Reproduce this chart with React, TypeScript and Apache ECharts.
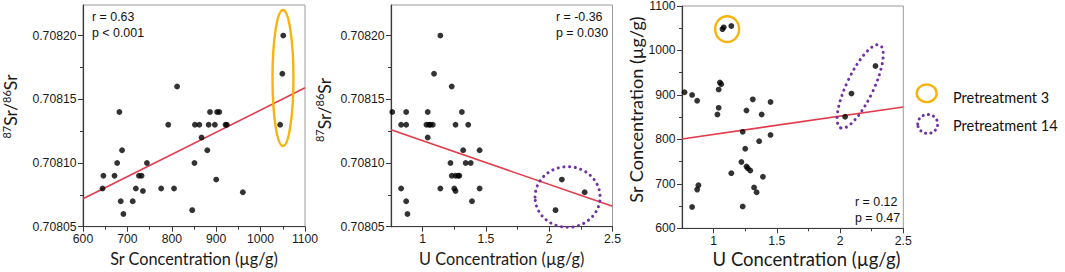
import React, { useEffect, useRef } from "react";
import * as echarts from "echarts";

// ---------- Panel A: Sr concentration vs 87Sr/86Sr ----------
const srConcA = [644, 646, 671, 677, 682, 688, 685, 691, 712, 719, 726, 732, 735, 744, 776, 792, 805, 812, 846, 851, 852, 862, 867, 880, 883, 886, 897, 900, 902, 907, 921, 924, 960, 1044, 1049, 1051];
const ratioA = [0.70808, 0.70809, 0.70809, 0.7081, 0.70814, 0.70811, 0.70807, 0.70806, 0.70807, 0.70808, 0.70809, 0.70809, 0.708078, 0.7081, 0.70808, 0.70813, 0.70808, 0.70816, 0.708063, 0.7081, 0.70813, 0.70813, 0.70812, 0.70811, 0.70813, 0.70814, 0.70813, 0.708087, 0.70814, 0.70814, 0.70813, 0.70813, 0.708077, 0.70813, 0.70817, 0.7082];
const trendA = [[600, 0.708072], [1100, 0.708159]];

// ---------- Panel B: U concentration vs 87Sr/86Sr ----------
const uConcB = [0.76, 0.83, 0.83, 0.87, 0.87, 0.87, 0.88, 1.03, 1.04, 1.04, 1.05, 1.06, 1.08, 1.09, 1.14, 1.14, 1.22, 1.23, 1.23, 1.25, 1.26, 1.26, 1.26, 1.28, 1.29, 1.31, 1.32, 1.34, 1.36, 1.38, 1.39, 1.45, 1.45, 2.05, 2.1, 2.28];
const ratioB = [0.70814, 0.70808, 0.70813, 0.70814, 0.70813, 0.70807, 0.70806, 0.70813, 0.70814, 0.70812, 0.70813, 0.70813, 0.70813, 0.70817, 0.7082, 0.70808, 0.7081, 0.70816, 0.70809, 0.70808, 0.70809, 0.70813, 0.708078, 0.70809, 0.70809, 0.70814, 0.70811, 0.7081, 0.70813, 0.7081, 0.70807, 0.70811, 0.70808, 0.708063, 0.708087, 0.708077];
const trendB = [[0.75, 0.708126], [2.5, 0.708066]];

// ---------- Panel C: U concentration vs Sr concentration ----------
const uConcC = [0.77, 0.83, 0.87, 0.83, 0.87, 0.88, 1.03, 1.04, 1.04, 1.05, 1.06, 1.07, 1.08, 1.14, 1.14, 1.22, 1.23, 1.23, 1.25, 1.26, 1.26, 1.27, 1.29, 1.31, 1.32, 1.34, 1.36, 1.38, 1.39, 1.45, 1.45, 2.04, 2.09, 2.28];
const srConcC = [906, 900, 887, 648, 687, 697, 856, 871, 912, 928, 924, 1048, 1052, 1055, 724, 749, 817, 649, 779, 865, 739, 735, 730, 890, 692, 681, 796, 856, 716, 884, 810, 851, 903, 965];
const trendC = [[0.75, 801], [2.5, 873]];

// ---------- Axis ranges and ticks ----------
const ratioRange = [0.70805, 0.708224];
const ratioTicks = [0.70805, 0.7081, 0.70815, 0.7082];
const ratioMinorTicks = [0.708075, 0.708125, 0.708175];
const srRangeX = [600, 1100];
const srTicksX = [600, 700, 800, 900, 1000, 1100];
const srMinorX = [650, 750, 850, 950, 1050];
const uRange = [0.75, 2.5];
const uTicks = [1, 1.5, 2, 2.5];
const uMinor = [1.25, 1.75, 2.25];
const srRangeY = [600, 1100];
const srTicksY = [600, 700, 800, 900, 1000, 1100];
const srMinorY = [650, 750, 850, 950, 1050];

// ---------- Titles and stats text ----------
const srTitle = "Sr Concentration (µg/g)";
const uTitle = "U Concentration (µg/g)";
const statsA = ["r = 0.63", "p < 0.001"];
const statsB = ["r = -0.36", "p = 0.030"];
const statsC = ["r = 0.12", "p = 0.47"];

// ---------- Annotation shapes (data units) ----------
const pretreat3A = { center: [1050.4, 0.7081667], radius: [23.6, 0.0000534] };
const pretreat14B = { center: [2.145, 0.7080733], radius: [0.257, 0.0000238] };
const pretreat3C = { center: [1.107, 1048], radius: [0.095, 29] };
const pretreat14C = { ends: [[2.004, 826], [2.314, 1012]], halfWidthPx: 13.5 };

const legendLabels = ["Pretreatment 3", "Pretreatment 14"];

const ORANGE = "#F8B30C";
const PURPLE = "#7030A0";
const RED = "#E33B4B";
const AXIS = "#3a3a3a";
const LABEL_FONT = "Liberation Sans";
const TITLE_FONT = "Lato";

const zip = (a: number[], b: number[]) => a.map((v, i) => [v, b[i]]);

function mainAxis(grid: number, range: number[], ticks: number[], fmt: ((v: number) => string) | null, isX: boolean, name: string, nameSize: number, nameGap: number) {
  return {
    type: "value",
    gridIndex: grid,
    min: range[0],
    max: range[1],
    position: isX ? "bottom" : "left",
    axisLine: { show: true, onZero: false, lineStyle: { color: AXIS, width: 1.2 } },
    axisTick: { show: true, inside: false, length: 5, customValues: ticks, lineStyle: { color: AXIS, width: 1 } },
    axisLabel: {
      show: true,
      customValues: ticks,
      formatter: fmt || ((v: number) => String(v)),
      fontSize: 12.2,
      fontFamily: LABEL_FONT,
      color: "#1a1a1a",
      margin: 6.5,
    },
    splitLine: { show: false },
    name: name,
    nameLocation: "middle",
    nameGap: nameGap,
    nameTextStyle: { fontFamily: TITLE_FONT, fontSize: nameSize, color: "#1a1a1a" },
  };
}

function minorAxis(grid: number, range: number[], ticks: number[], isX: boolean) {
  return {
    type: "value",
    gridIndex: grid,
    min: range[0],
    max: range[1],
    position: isX ? "bottom" : "left",
    axisLine: { show: false, onZero: false },
    axisTick: { show: true, inside: false, length: 3, customValues: ticks, lineStyle: { color: AXIS, width: 1 } },
    axisLabel: { show: false },
    splitLine: { show: false },
  };
}

const ratioFmt = (v: number) => v.toFixed(5);

export default function App() {
  const ref = useRef<HTMLDivElement>(null);

  useEffect(() => {
    if (!ref.current) return;
    const chart = echarts.init(ref.current, null, { renderer: "svg" });

    const gridBase = { show: true, borderColor: "#9a9a9a", borderWidth: 1, backgroundColor: "transparent", outerBoundsMode: "none", containLabel: false };

    const scatter = (g: number, data: number[][]) => ({
      type: "scatter",
      xAxisIndex: g * 2,
      yAxisIndex: g * 2,
      data,
      symbolSize: 5.8,
      itemStyle: { color: "#000" },
      z: 3,
    });
    const trend = (g: number, data: number[][]) => ({
      type: "line",
      xAxisIndex: g * 2,
      yAxisIndex: g * 2,
      data,
      showSymbol: false,
      symbol: "none",
      lineStyle: { color: RED, width: 1.6 },
      z: 2,
      silent: true,
    });

    chart.setOption({
      animation: false,
      grid: [
        { ...gridBase, left: 83, top: 5, width: 222, height: 221.7 },
        { ...gridBase, left: 391, top: 5, width: 221.5, height: 221.7 },
        { ...gridBase, left: 682, top: 6, width: 221.3, height: 222.3 },
      ],
      xAxis: [
        mainAxis(0, srRangeX, srTicksX, null, true, srTitle, 16.3, 21),
        minorAxis(0, srRangeX, srMinorX, true),
        mainAxis(1, uRange, uTicks, null, true, uTitle, 16.3, 21),
        minorAxis(1, uRange, uMinor, true),
        mainAxis(2, uRange, uTicks, null, true, "", 12, 0),
        minorAxis(2, uRange, uMinor, true),
      ],
      yAxis: [
        mainAxis(0, ratioRange, ratioTicks, ratioFmt, false, "", 12, 0),
        minorAxis(0, ratioRange, ratioMinorTicks, false),
        mainAxis(1, ratioRange, ratioTicks, ratioFmt, false, "", 12, 0),
        minorAxis(1, ratioRange, ratioMinorTicks, false),
        mainAxis(2, srRangeY, srTicksY, null, false, "", 12, 0),
        minorAxis(2, srRangeY, srMinorY, false),
      ],
      series: [
        trend(0, trendA),
        scatter(0, zip(srConcA, ratioA)),
        trend(1, trendB),
        scatter(1, zip(uConcB, ratioB)),
        trend(2, trendC),
        scatter(2, zip(uConcC, srConcC)),
      ],
    });

    const toPx = (g: number, p: number[]) =>
      chart.convertToPixel({ xAxisIndex: g * 2, yAxisIndex: g * 2 } as any, p) as number[];

    const ellipseOf = (g: number, spec: { center: number[]; radius: number[] }, stroke: string, dotted: boolean) => {
      const c = toPx(g, spec.center);
      const ex = toPx(g, [spec.center[0] + spec.radius[0], spec.center[1]]);
      const ey = toPx(g, [spec.center[0], spec.center[1] + spec.radius[1]]);
      return {
        type: "ellipse",
        z: 50,
        silent: true,
        shape: { cx: c[0], cy: c[1], rx: Math.abs(ex[0] - c[0]), ry: Math.abs(ey[1] - c[1]) },
        style: dotted
          ? { fill: "none", stroke, lineWidth: 3, lineDash: [0.1, 5.6], lineCap: "round" }
          : { fill: "none", stroke, lineWidth: 2.4 },
      };
    };

    const p1 = toPx(2, pretreat14C.ends[0]);
    const p2 = toPx(2, pretreat14C.ends[1]);
    const tilted = {
      type: "ellipse",
      z: 50,
      silent: true,
      x: (p1[0] + p2[0]) / 2,
      y: (p1[1] + p2[1]) / 2,
      rotation: Math.atan2(p1[1] - p2[1], p2[0] - p1[0]),
      shape: { cx: 0, cy: 0, rx: Math.hypot(p2[0] - p1[0], p2[1] - p1[1]) / 2, ry: pretreat14C.halfWidthPx },
      style: { fill: "none", stroke: PURPLE, lineWidth: 3, lineDash: [0.1, 5.6], lineCap: "round" },
    };

    const statText = (x: number, y: number, text: string) => ({
      type: "text",
      x,
      y,
      z: 60,
      style: { text, fontFamily: LABEL_FONT, fontSize: 12.4, fill: "#111", align: "left", verticalAlign: "middle" },
    });

    const richRatio = (x: number, y: number) => ({
      type: "text",
      x,
      y,
      rotation: Math.PI / 2,
      z: 60,
      style: {
        text: "{sup|87}Sr/{sup|86}Sr",
        fontFamily: TITLE_FONT,
        fontSize: 17.5,
        fill: "#1a1a1a",
        align: "center",
        verticalAlign: "middle",
        lineHeight: 20,
        rich: {
          sup: { fontFamily: TITLE_FONT, fontSize: 11, fill: "#1a1a1a", verticalAlign: "top", lineHeight: 11 },
        },
      },
    });

    chart.setOption({
      graphic: [
        ellipseOf(0, pretreat3A, ORANGE, false),
        ellipseOf(1, pretreat14B, PURPLE, true),
        ellipseOf(2, pretreat3C, ORANGE, false),
        tilted,
        statText(92, 16.5, statsA[0]),
        statText(92, 32.5, statsA[1]),
        statText(556, 16.5, statsB[0]),
        statText(556, 32.5, statsB[1]),
        statText(855, 201.5, statsC[0]),
        statText(855, 218, statsC[1]),
        richRatio(10.5, 106.5),
        richRatio(324, 110),
        {
          type: "text",
          x: 636,
          y: 109.5,
          rotation: Math.PI / 2,
          z: 60,
          style: { text: srTitle, fontFamily: TITLE_FONT, fontSize: 18.1, fill: "#1a1a1a", align: "center", verticalAlign: "middle" },
        },
        {
          type: "text",
          x: 806.5,
          y: 259,
          z: 60,
          style: { text: uTitle, fontFamily: TITLE_FONT, fontSize: 18.5, fill: "#1a1a1a", align: "center", verticalAlign: "middle" },
        },
        // legend
        {
          type: "ellipse",
          z: 60,
          shape: { cx: 926.7, cy: 93.3, rx: 10, ry: 8.8 },
          style: { fill: "none", stroke: ORANGE, lineWidth: 2.4 },
        },
        {
          type: "ellipse",
          z: 60,
          shape: { cx: 927.7, cy: 124, rx: 10, ry: 9.5 },
          style: { fill: "none", stroke: PURPLE, lineWidth: 3, lineDash: [0.1, 5.2], lineCap: "round" },
        },
        {
          type: "text",
          x: 953,
          y: 97.5,
          z: 60,
          style: { text: legendLabels[0], fontFamily: TITLE_FONT, fontSize: 14.5, fill: "#111", align: "left", verticalAlign: "middle" },
        },
        {
          type: "text",
          x: 953,
          y: 125.5,
          z: 60,
          style: { text: legendLabels[1], fontFamily: TITLE_FONT, fontSize: 14.5, fill: "#111", align: "left", verticalAlign: "middle" },
        },
      ],
    });

    return () => {
      chart.dispose();
    };
  }, []);

  return (
    <div
      ref={ref}
      style={{ position: "fixed", left: 0, top: 0, width: 1065, height: 272, background: "#fff" }}
    />
  );
}
